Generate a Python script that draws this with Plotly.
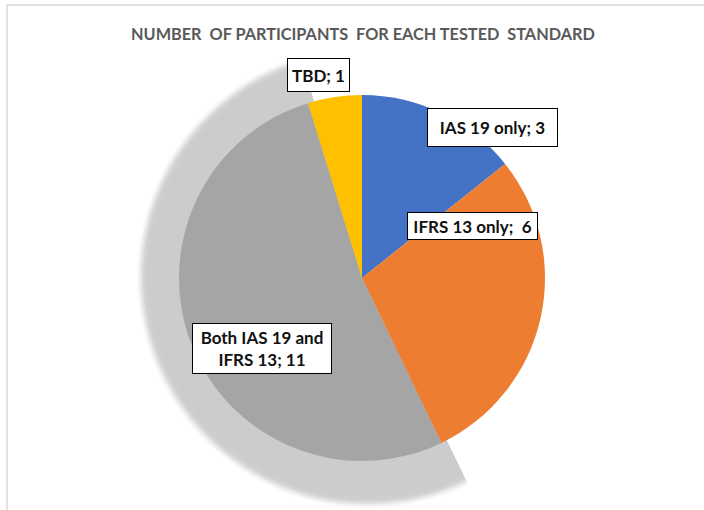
import plotly.graph_objects as go

categories = ["IAS 19 only", "IFRS 13 only", "Both IAS 19 and IFRS 13", "TBD"]
values = [3, 6, 11, 1]
label_texts = ["IAS 19 only; 3", "IFRS 13 only;\u00a0 6", "Both IAS 19 and<br>IFRS 13; 11", "TBD; 1"]
colors = ["#4472C4", "#ED7D31", "#A5A5A5", "#FFC000"]
title_text = "NUMBER\u00a0 OF PARTICIPANTS\u00a0 FOR EACH TESTED\u00a0 STANDARD"

W, H = 704, 510

def dom(cx, cy, r):
    return dict(x=[(cx - r) / W, (cx + r) / W], y=[(H - cy - r) / H, (H - cy + r) / H])

fig = go.Figure()

# shadow of the large slice (layered to imitate blur)
for r, op in [(231, 0.12), (229, 0.25), (227, 0.4), (225, 0.6), (223, 0.8), (220, 1.0)]:
    sc = ["rgba(0,0,0,0)"] * len(values)
    sc[2] = "rgba(204,204,204,%.2f)" % op
    fig.add_trace(go.Pie(
        labels=categories, values=values, sort=False, direction="clockwise",
        rotation=0, marker=dict(colors=sc, line=dict(width=0)),
        textinfo="none", hoverinfo="skip", showlegend=False,
        domain=dom(368, 277, r),
    ))

fig.add_trace(go.Pie(
    labels=categories, values=values, sort=False, direction="clockwise",
    rotation=0, marker=dict(colors=colors, line=dict(width=0)),
    textinfo="none", hoverinfo="label+value", showlegend=False,
    domain=dom(362, 278, 183),
))

# label boxes: (center x, center y, width, height) in pixels
boxes = [(492, 127, 129, 37), (472, 226, 129, 26), (262, 348, 138, 49), (318, 75, 61, 32)]
for txt, (bx, by, bw, bh) in zip(label_texts, boxes):
    fig.add_annotation(
        x=bx / W, y=1 - by / H, xref="paper", yref="paper",
        xanchor="center", yanchor="middle", text="<b>" + txt + "</b>",
        showarrow=False, align="center", width=bw, height=bh,
        bgcolor="white", bordercolor="#000000", borderwidth=1, borderpad=0,
        font=dict(family="Lato, Open Sans, sans-serif", size=17, color="#111111"),
    )

fig.add_annotation(
    x=363 / W, y=1 - 34 / H, xref="paper", yref="paper",
    xanchor="center", yanchor="middle", showarrow=False,
    text="<b>" + title_text + "</b>",
    font=dict(family="Lato, Open Sans, sans-serif", size=16.3, color="#595959"),
)

# chart area border
fig.add_shape(type="rect", xref="paper", yref="paper",
              x0=7 / W, x1=1.2, y0=-0.2, y1=1 - 5 / H,
              line=dict(color="#D9D9D9", width=1.5), fillcolor="rgba(0,0,0,0)", layer="below")

fig.update_layout(
    width=W, height=H, margin=dict(l=0, r=0, t=0, b=0),
    paper_bgcolor="white", plot_bgcolor="white", showlegend=False,
)

fig.write_html("out.html", config={"displayModeBar": False},
               post_script="document.body.style.margin='0';document.body.style.overflow='hidden';")
